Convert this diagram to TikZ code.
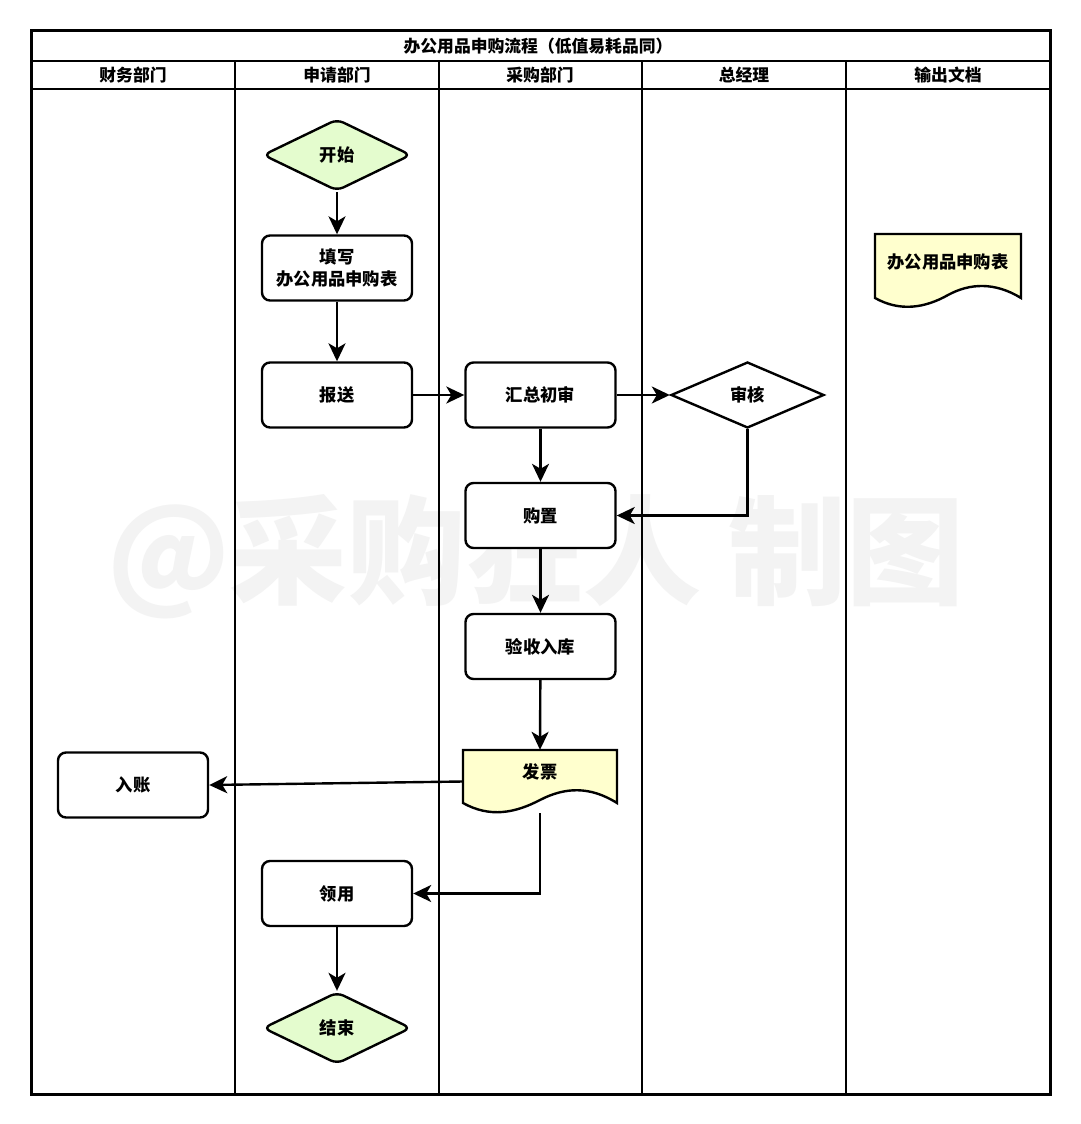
\documentclass[tikz,border=0pt]{standalone}
\usepackage{fontspec}
\setmainfont{Noto Sans CJK SC}
\usetikzlibrary{shapes.geometric,arrows.meta}
\definecolor{startgreen}{RGB}{228,252,206}
\definecolor{docyellow}{RGB}{255,255,206}
\definecolor{wmgray}{RGB}{243,243,243}
\newcommand\lblfont{\fontsize{17.3}{22}\selectfont\bfseries}
\newcommand\hdrfont{\fontsize{16.8}{19}\selectfont\bfseries}
\tikzset{
  proc/.style={draw, line width=2.4pt, rounded corners=8pt, fill=white,
    minimum width=150, minimum height=65, align=center, font=\lblfont, inner sep=2pt},
  startdia/.style={diamond, draw, line width=2.4pt, rounded corners=7pt, fill=startgreen,
    minimum width=148, minimum height=72, inner sep=0pt, font=\lblfont},
  checkdia/.style={diamond, draw, line width=2.4pt, fill=white,
    minimum width=153, minimum height=66, inner sep=0pt, font=\lblfont},
  docarea/.style={minimum width=154, minimum height=63, inner sep=0pt},
  docline/.style={draw, line width=2.4pt, fill=docyellow, line join=miter},
  conn/.style={line width=2.4pt, -{Stealth[length=18pt,width=17pt,inset=5pt]}},
  hdr/.style={font=\hdrfont, inner sep=0pt},
  lane/.style={line width=2.4pt},
  frame/.style={line width=3pt}
}
\begin{document}
\begin{tikzpicture}[x=1pt,y=-1pt]
\useasboundingbox (0,0) rectangle (1080,1124);
\fill[white] (0,0) rectangle (1080,1124);
% watermark
\node[text=wmgray, font=\fontsize{118}{118}\selectfont\bfseries, inner sep=0pt] (wm) at (536,557) {@采购狂人\ 制图};
% pool frame and lanes
\draw[lane] (31,61) -- (1050,61);
\draw[lane] (31,89) -- (1050,89);
\foreach \xx in {235,439,642,846} { \draw[lane] (\xx,61) -- (\xx,1094); }
\draw[frame] (31,31) rectangle (1050,1094);
\node[hdr] (title) at (538,46) {办公用品申购流程（低值易耗品同）};
\node[hdr] (h1) at (133,75) {财务部门};
\node[hdr] (h2) at (337,75) {申请部门};
\node[hdr] (h3) at (540,75) {采购部门};
\node[hdr] (h4) at (744,75) {总经理};
\node[hdr] (h5) at (948,75) {输出文档};
% nodes
\node[startdia] (ks) at (337,155) {开始};
\node[proc] (tx) at (337,268) {填写\\办公用品申购表};
\node[proc] (bs) at (337,395) {报送};
\node[proc] (hz) at (540.5,395) {汇总初审};
\node[checkdia] (sh) at (747.5,395) {审核};
\node[proc] (gz) at (540.5,515.5) {购置};
\node[proc] (ys) at (540.5,646.5) {验收入库};
\node[proc] (rz) at (133,785) {入账};
\node[proc] (ly) at (337,893.5) {领用};
\node[startdia] (js) at (337,1028) {结束};
% document: invoice
\path[docline] (463,750) -- (617,750) -- (617,803)
  .. controls (590,786) and (565,787) .. (540,800)
  .. controls (515,813) and (490,818) .. (463,803) -- cycle;
\node[docarea] (fp) at (540,781.5) {};
\node[font=\lblfont, inner sep=0pt] (fpt) at (540,772) {发票};
% document: output form
\path[docline] (875,234) -- (1021,234) -- (1021,298)
  .. controls (995,282) and (970,283) .. (948,295)
  .. controls (925,308) and (900,312) .. (875,298) -- cycle;
\node[font=\lblfont, inner sep=0pt] (sgb) at (948,262) {办公用品申购表};
% connectors
\draw[conn] (ks) -- (tx);
\draw[conn] (tx) -- (bs);
\draw[conn] (bs) -- (hz);
\draw[conn] (hz) -- (sh);
\draw[conn] (hz) -- (gz);
\draw[conn] (sh.south) |- (gz.east);
\draw[conn] (gz) -- (ys);
\draw[conn] (ys) -- (fp.north);
\draw[conn] (fp.west) -- (rz.east);
\draw[conn] (fp.south) |- (ly.east);
\draw[conn] (ly) -- (js);
\end{tikzpicture}
\end{document}
